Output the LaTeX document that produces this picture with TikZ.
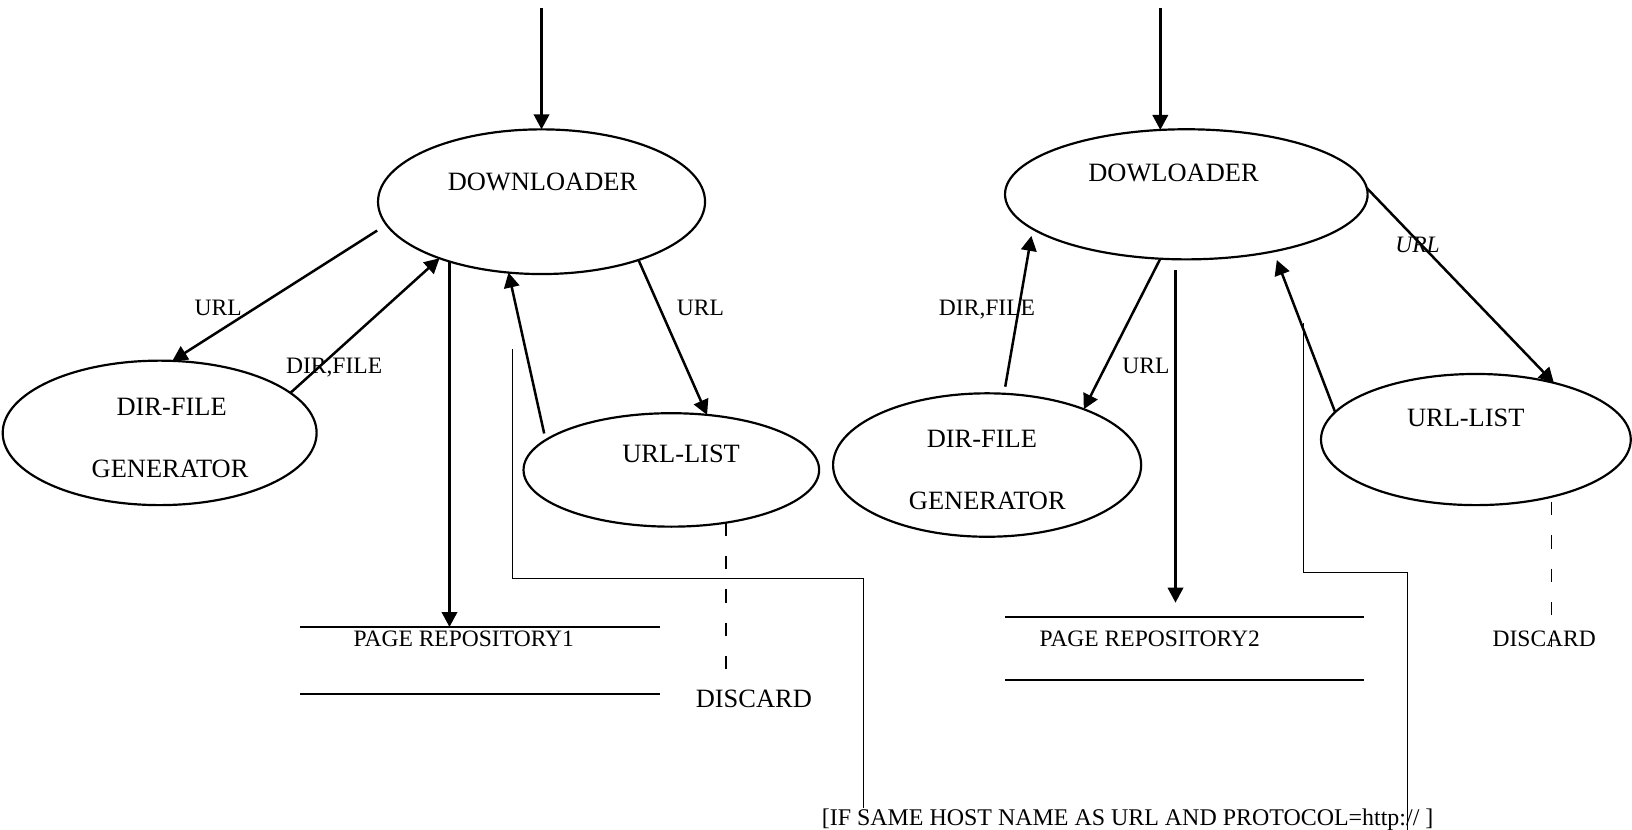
\documentclass[tikz,border=0pt]{standalone}
\usepackage{fontspec}
\setmainfont{Liberation Serif}
\usetikzlibrary{shapes.geometric,arrows.meta}

\begin{document}
\begin{tikzpicture}[x=0.5pt,y=-0.5pt,
  proc/.style={ellipse,draw,line width=1.05pt,inner sep=0pt,outer sep=0pt},
  big/.style={inner sep=0pt,outer sep=0pt,anchor=base,font=\fontsize{12.7pt}{15pt}\selectfont},
  small/.style={inner sep=0pt,outer sep=0pt,anchor=base,font=\fontsize{11.3pt}{13pt}\selectfont},
  flow/.style={-{Triangle[length=7.2pt,width=7.4pt]},line width=1.2pt},
  store/.style={inner sep=0pt,outer sep=0pt},
  storeline/.style={line width=1.05pt},
  drop/.style={line width=0.7pt,dash pattern=on 6.4pt off 9.6pt},
  feed/.style={line width=0.65pt}]
\useasboundingbox (0,0) rectangle (1568,797);

% ---------- left crawler ----------
\node[proc,minimum width=157.1pt,minimum height=69.5pt] (dl)  at (520.3,193.8) {};
\node[proc,minimum width=150.8pt,minimum height=69.4pt] (dg)  at (153.4,415.9) {};
\node[proc,minimum width=142pt,minimum height=54.5pt]   (ul)  at (645,451.5) {};
\node[store,minimum width=172.5pt,minimum height=32.35pt] (rp1) at (461.2,634.75) {};

\node[big] (tdl)  at (521.2,182.8) {DOWNLOADER};
\node[big] (tdg1) at (164.9,399) {DIR-FILE};
\node[big] (tdg2) at (163.4,458.4) {GENERATOR};
\node[big] (tul)  at (654.4,444.4) {URL-LIST};
\node[small] (trp1) at (445.6,621.6) {PAGE REPOSITORY1};
\node[big] (discL) at (724.3,680.1) {DISCARD};

\node[small] (lA) at (209.6,302.9) {URL};
\node[small] (lB) at (321,358.5) {DIR,FILE};
\node[small] (lC) at (673,302.9) {URL};

\coordinate (inL) at (520.3,8);
\draw[flow] (inL) -- (dl.north);
\draw[flow] ([shift={(-12,2)}]dl.190) -- (dg.80);
\draw[flow] (dg.17) -- (dl.209);
\draw[flow] (dl.213) -- (dl.213 |- rp1.north);
\draw[flow] ([shift={(-8.4,-2.4)}]ul.164) -- (dl.245);
\draw[flow] (dl.329) -- (ul.57);

\draw[storeline] (rp1.north west) -- (rp1.north east);
\draw[storeline] (rp1.south west) -- (rp1.south east);
\draw[drop,shorten >=5pt] (ul.316) -- (ul.316 |- discL.north);

% ---------- right crawler ----------
\node[proc,minimum width=174.2pt,minimum height=62.5pt] (dr)  at (1139.8,186.7) {};
\node[proc,minimum width=148pt,minimum height=68.9pt]   (drg) at (948.4,446.8) {};
\node[proc,minimum width=148.8pt,minimum height=63pt]   (url) at (1418,422.3) {};
\node[store,minimum width=172.3pt,minimum height=30.45pt] (rp2) at (1138.2,622.95) {};

\node[big] (tdr)  at (1127.5,174.1) {DOWLOADER};
\node[big] (tdrg1) at (943.4,430.2) {DIR-FILE};
\node[big] (tdrg2) at (948.6,489.6) {GENERATOR};
\node[big] (turl) at (1408.3,409.5) {URL-LIST};
\node[small] (trp2) at (1104.6,621.6) {PAGE REPOSITORY2};
\node[small] (discR) at (1483.7,621.6) {DISCARD};

\node[small] (lD) at (948.3,303.5) {DIR,FILE};
\node[small] (lE) at (1100.9,358.7) {URL};
\node[small,font=\fontsize{11.3pt}{13pt}\selectfont\itshape] (lF) at (1362,242.9) {URL};

\coordinate (inR) at (1114.8,8);
\draw[flow] (inR) -- (inR |- dr.112);
\draw[flow] ([shift={(1.6,-6.8)}]drg.77) -- ([shift={(-9.3,2.5)}]dr.195);
\draw[flow] (dr.248) -- (drg.30);
\draw[flow,shorten >=6.75pt] ([shift={(-10.4,10)}]dr.south) coordinate (vR) -- (vR |- rp2.north);
\draw[flow] (url.169) -- ([shift={(9.8,7.1)}]dr.324);
\draw[flow] (dr.2) -- (url.36);

\draw[storeline] (rp2.north west) -- (rp2.north east);
\draw[storeline] (rp2.south west) -- (rp2.south east);
\draw[drop] ([yshift=-2.5pt]url.323) -- (url.323 |- discR.base);

% ---------- feedback condition ----------
\node[small,font=\fontsize{11.5pt}{13pt}\selectfont] (cond) at (1083.4,792.7) {[IF SAME HOST NAME AS URL AND PROTOCOL=http:// ]};

\coordinate (fbL) at (492.3,335.6);
\coordinate (fbLc) at (829.8,555.7);
\draw[feed] (fbL) |- (fbLc) -- (fbLc |- cond.north);

\coordinate (fbR) at (1252.5,310.7);
\coordinate (fbRc) at (1352.3,549.9);
\draw[feed] (fbR) |- (fbRc) -- (fbRc |- cond.south);
\end{tikzpicture}
\end{document}
